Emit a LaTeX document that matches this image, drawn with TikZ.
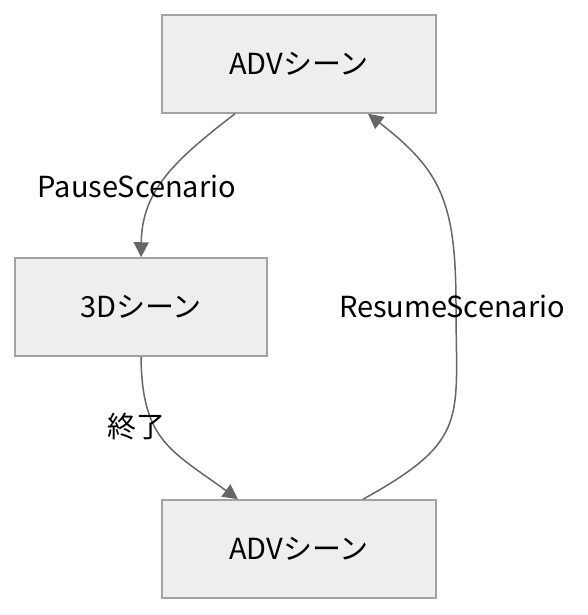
\documentclass[tikz,border=0pt]{standalone}
\usepackage{fontspec}
\setmainfont{Noto Sans CJK JP}
\usetikzlibrary{arrows.meta,calc}
\definecolor{boxfill}{HTML}{EEEEEE}
\definecolor{boxline}{HTML}{A3A3A3}
\definecolor{edgecol}{HTML}{666666}
\begin{document}
\begin{tikzpicture}[x=1pt,y=-1pt,
  scene/.style={draw=boxline,fill=boxfill,line width=1.5pt,minimum width=274pt,minimum height=98pt,inner sep=0pt,font=\fontsize{29}{34}\selectfont},
  edge/.style={draw=edgecol,line width=1.5pt,-{Triangle[length=15pt,width=15pt]}},
  lbl/.style={font=\fontsize{29}{34}\selectfont,inner sep=0pt}]
\useasboundingbox (0,0) rectangle (588,615);
\node[scene] (adv1) at (299,64) {ADVシーン};
\node[scene,minimum width=252pt] (d3) at (141,307) {3Dシーン};
\node[scene] (adv2) at (299,549) {ADVシーン};
\coordinate (p1) at ($(adv1.south)+(-64,0)$);
\coordinate (r2) at ($(adv1.south)+(69,0)$);
\coordinate (e2) at ($(adv2.north)+(-61,0)$);
\coordinate (r1) at ($(adv2.north)+(64,0)$);
\draw[edge] (p1) .. controls (175,160) and (142,190) .. (d3.north);
\draw[edge] (d3.south) .. controls (142,440) and (170,450) .. (e2);
\draw[edge] (r1) .. controls (470,440) and (456,420) .. (456,306) .. controls (456,200) and (440,170) .. (r2);
\node[lbl] (lp) at (137,186) {PauseScenario};
\node[lbl] (le) at (136,427) {終了};
\node[lbl] (lr) at (452,306) {ResumeScenario};
\end{tikzpicture}
\end{document}
